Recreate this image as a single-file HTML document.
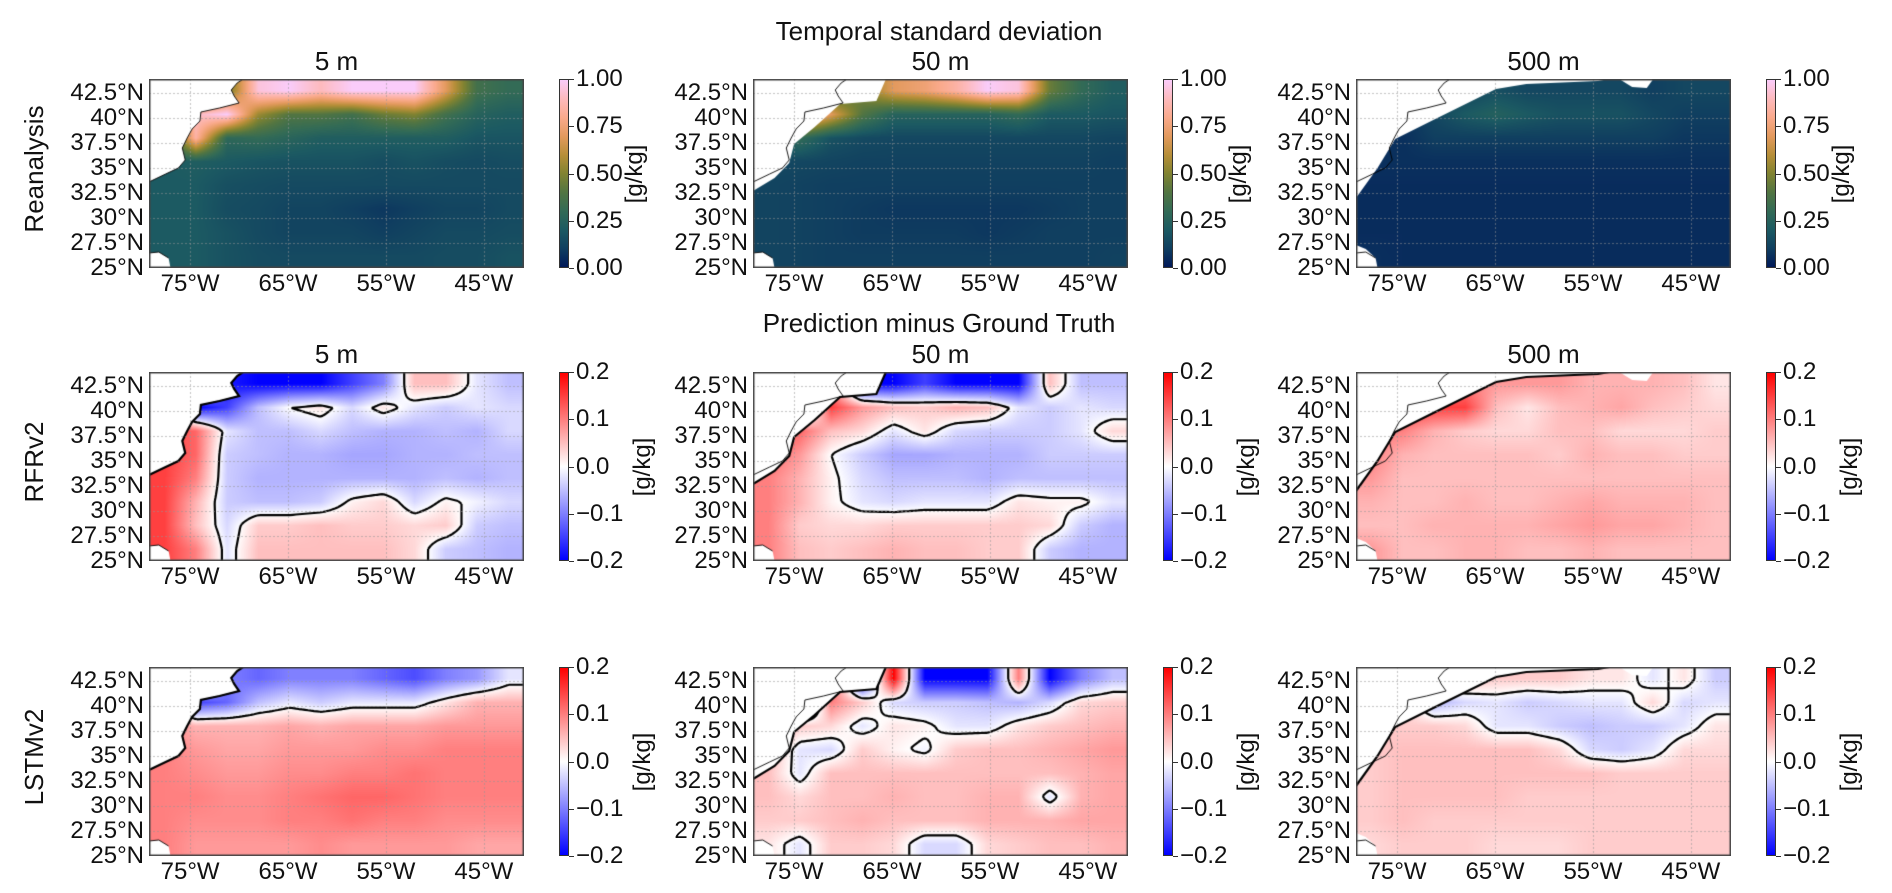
<!DOCTYPE html>
<html><head><meta charset="utf-8">
<style>
body{margin:0;background:#fff;}
#fig{position:relative;width:1892px;height:893px;overflow:hidden;background:#fff;font-family:"Liberation Sans","DejaVu Sans",sans-serif;color:#111;}
.t{position:absolute;white-space:nowrap;line-height:1;}
canvas{position:absolute;}
.cb{position:absolute;width:10px;border:1px solid #333;box-sizing:border-box;}
.tick{position:absolute;width:5px;height:1px;background:#333;}
</style></head>
<body>
<div id="fig"></div>
<script>
// ---- data ----
const lonTicks = [-75, -65, -55, -45];
const latTicks = [25, 27.5, 30, 32.5, 35, 37.5, 40, 42.5];
const stdTicks = [0, 0.25, 0.5, 0.75, 1.0];
const diffTicks = [-0.2, -0.1, 0.0, 0.1, 0.2];
const depths = ["5 m", "50 m", "500 m"];
const rowNames = ["Reanalysis", "RFRv2", "LSTMv2"];

const std5m = [
[.2,.2,.45,.95,1.0,.9,1.0,1.0,1.0,.7,.35,.3],
[.2,.9,1.0,.55,.4,.4,.35,.45,.5,.35,.25,.22],
[.2,.85,.28,.3,.26,.22,.22,.22,.22,.22,.18,.18],
[.2,.22,.2,.18,.17,.17,.17,.15,.17,.15,.14,.15],
[.2,.2,.16,.15,.14,.14,.14,.14,.14,.14,.14,.14],
[.2,.2,.15,.14,.12,.12,.1,.08,.1,.12,.12,.14],
[.2,.2,.17,.14,.12,.12,.12,.1,.12,.14,.14,.15],
[.2,.2,.17,.15,.14,.14,.14,.14,.14,.15,.15,.17]];
const std50m = [
[.2,.2,.3,.5,.7,.75,.85,1.0,.95,.45,.3,.22],
[.2,.95,.7,.4,.25,.25,.25,.25,.3,.2,.2,.18],
[.2,.3,.17,.14,.13,.13,.13,.13,.13,.13,.13,.12],
[.13,.13,.12,.11,.11,.11,.11,.11,.11,.11,.11,.1],
[.12,.11,.1,.1,.1,.1,.1,.1,.1,.1,.1,.1],
[.12,.11,.1,.09,.08,.08,.08,.08,.08,.09,.1,.1],
[.12,.11,.1,.09,.09,.09,.09,.08,.09,.1,.1,.1],
[.12,.11,.1,.1,.1,.1,.1,.1,.1,.1,.1,.11]];
const std500m = [
[.06,.06,.06,.12,.16,.13,.13,.13,.13,.1,.13,.13],
[.06,.06,.13,.2,.24,.2,.17,.17,.17,.13,.1,.1],
[.06,.06,.1,.1,.1,.1,.1,.1,.1,.1,.08,.08],
[.06,.06,.06,.06,.06,.06,.06,.06,.06,.06,.06,.06],
[.05,.05,.05,.05,.05,.05,.05,.05,.05,.05,.05,.05],
[.05,.05,.05,.05,.05,.05,.05,.05,.05,.05,.05,.05],
[.05,.05,.05,.05,.05,.05,.05,.05,.05,.05,.05,.05],
[.06,.05,.05,.05,.05,.05,.05,.05,.05,.05,.05,.05]];
const rfr5m = [
[.1,.1,-.18,-.2,-.2,-.2,-.15,-.1,.05,.05,-.02,-.05],
[.1,-.2,-.15,-.05,0,.02,-.03,.02,-.02,-.04,-.02,-.03],
[.15,.12,-.02,-.05,-.05,-.03,-.05,-.06,-.06,-.05,-.06,-.03],
[.15,.12,-.04,-.05,-.06,-.06,-.07,-.07,-.06,-.06,-.05,-.05],
[.15,.1,-.04,-.06,-.06,-.06,-.06,-.06,-.06,-.05,-.06,-.05],
[.15,.06,-.04,-.05,-.05,-.04,.01,.03,-.03,.01,-.01,-.03],
[.15,.05,-.03,.04,.04,.05,.04,.04,.03,.04,-.04,-.05],
[.15,.1,-.02,.05,.05,.05,.05,.05,.03,-.04,-.05,-.06]];
const rfr50m = [
[.1,.1,.1,-.2,-.2,-.15,-.2,-.2,-.2,.05,-.05,-.05],
[.1,-.15,.15,.08,.05,.04,.06,.05,-.02,-.04,-.02,-.03],
[.15,.12,.05,.03,-.02,.02,-.03,-.04,-.04,-.04,-.02,.03],
[.12,.08,0,-.04,-.07,-.07,-.06,-.06,-.06,-.04,-.04,-.04],
[.1,.06,.01,-.03,-.05,-.05,-.05,-.06,-.05,-.05,-.05,-.05],
[.1,.06,.01,-.02,-.03,-.02,-.02,-.02,.02,.01,.01,-.02],
[.1,.04,.03,.03,.04,.04,.04,.04,.04,.03,-.04,-.06],
[.1,.05,.04,.05,.06,.05,.05,.04,.04,-.04,-.06,-.06]];
const rfr500m = [
[.1,.1,.1,.1,.08,.08,.08,.06,.06,.06,.05,.02],
[.15,.15,.15,.15,.05,.02,.05,.06,.07,.05,.04,.03],
[.1,.1,.06,.04,.03,.03,.05,.05,.03,.03,.03,.04],
[.1,.06,.05,.05,.05,.05,.04,.06,.05,.05,.04,.04],
[.08,.05,.05,.05,.05,.05,.05,.05,.05,.05,.05,.05],
[.06,.05,.05,.06,.05,.05,.06,.07,.06,.06,.06,.05],
[.05,.05,.06,.06,.06,.06,.07,.08,.07,.07,.06,.05],
[.08,.05,.05,.06,.06,.05,.05,.06,.05,.05,.05,.05]];
const lstm5m = [
[.1,.1,-.1,-.12,-.1,-.1,-.1,-.12,-.14,-.1,-.08,-.02],
[.1,-.15,-.12,-.05,-.02,-.04,-.02,-.02,-.02,.02,.06,.06],
[.1,.06,.06,.06,.07,.06,.07,.07,.07,.08,.08,.08],
[.1,.08,.07,.07,.08,.08,.08,.09,.09,.1,.1,.1],
[.1,.09,.08,.08,.09,.09,.1,.1,.11,.1,.1,.1],
[.1,.1,.09,.09,.1,.11,.12,.12,.11,.1,.1,.1],
[.1,.09,.09,.09,.1,.1,.11,.1,.1,.09,.09,.09],
[.1,.08,.08,.08,.08,.09,.08,.08,.08,.08,.07,.07]];
const lstm50m = [
[.1,.1,.15,-.2,.2,-.2,-.2,-.2,.1,-.2,-.1,-.05],
[.1,-.2,.1,.04,-.03,-.04,-.04,-.05,-.06,-.03,.03,.04],
[.1,.04,.03,-.02,.02,.01,-.02,-.02,.02,.04,.05,.06],
[.06,-.02,-.03,.04,.01,-.01,.04,.05,.05,.06,.07,.08],
[.05,-.02,.05,.05,.05,.05,.05,.05,.05,.05,.06,.07],
[.05,.03,.05,.05,.06,.05,.05,.06,.06,-.02,.06,.07],
[.04,.04,.05,.06,.05,.05,.05,.06,.06,.06,.07,.07],
[.02,-.02,.04,.04,.03,-.03,-.03,.03,.04,.05,.05,.06]];
const lstm500m = [
[.05,.05,.05,.05,.04,.04,.04,.02,.02,-.02,.02,-.04],
[.05,.05,-.06,-.03,-.02,-.04,-.03,-.02,-.02,.03,-.03,-.02],
[.05,.04,.04,.03,-.02,-.02,-.04,-.05,-.04,-.04,-.02,.02],
[.04,.05,.05,.05,.05,.05,.03,-.03,-.04,-.02,.03,.03],
[.04,.05,.05,.05,.05,.05,.05,.05,.04,.04,.04,.04],
[.04,.05,.05,.05,.05,.04,.04,.04,.04,.04,.04,.04],
[.04,.05,.04,.04,.04,.04,.04,.04,.04,.04,.04,.04],
[.03,.04,.04,.04,.03,.03,.03,.04,.04,.04,.04,.04]];

const panelGrids = [[std5m, std50m, std500m],[rfr5m, rfr50m, rfr500m],[lstm5m, lstm50m, lstm500m]];

// ---- layout ----
const LON0=-79.2, LON1=-40.9, LAT0=25, LAT1=43.9;
const PX=[149,753,1356], PY=[79,372,667], PW=375, PH=189;
const fig=document.getElementById('fig');

const coast5 = [[-79.2,33.6],[-77.5,34.4],[-76.2,35.0],[-75.5,35.8],[-75.8,37.0],[-75.3,38.0],[-74.8,38.9],[-74.0,39.7],[-73.9,40.6],[-72,41.0],[-70,41.5],[-70.5,42.2],[-70.8,42.8],[-70.2,43.5],[-69.5,43.95]];
const coast50 = [[-79.2,32.7],[-77,34],[-75.5,35.5],[-75.0,37.4],[-72.9,39.1],[-70.3,41.4],[-66.6,41.7],[-65.6,43.95]];
const coast500 = [[-79.2,32],[-77,35],[-75.2,37.9],[-71.1,39.9],[-64.9,42.9],[-61.8,43.4],[-54.5,43.7],[-53,43.95]];
const masks=[coast5,coast50,coast500];

function xOf(lon){return (lon-LON0)/(LON1-LON0)*PW;}
function yOf(lat){return (LAT1-lat)/(LAT1-LAT0)*PH;}

function text(s,x,y,size,align,name,rot){
  const d=document.createElement('div');
  d.className='t';d.textContent=s;d.style.fontSize=size+'px';
  
  
  fig.appendChild(d);
  let tx = align==='c'?'-50%':(align==='r'?'-100%':'0');
  d.style.left=x+'px';d.style.top=y+'px';
  d.style.transform='translate('+tx+',-50%)'+(rot?' rotate(-90deg)':'');
  return d;
}
const batlow=[[1,25,89],[16,63,96],[28,90,98],[51,107,86],[82,117,66],[129,131,49],[183,143,57],[227,154,94],[250,170,140],[253,186,189],[250,204,250]];
function cmStd(v){let t=Math.max(0,Math.min(1,v))*10;let i=Math.min(9,Math.floor(t));let f=t-i;const a=batlow[i],b=batlow[i+1];return [a[0]+(b[0]-a[0])*f,a[1]+(b[1]-a[1])*f,a[2]+(b[2]-a[2])*f];}
function cmBwr(v){let t=(Math.max(-0.2,Math.min(0.2,v))+0.2)/0.4;if(t<0.5)return [510*t,510*t,255];return [255,255*(2-2*t),255*(2-2*t)];}

function sampler(g){
  const nr=g.length,nc=g[0].length;
  return function(px,py){
    let gx=px/PW*nc-0.5, gy=py/PH*nr-0.5;
    gx=Math.max(0,Math.min(nc-1.001,gx)); gy=Math.max(0,Math.min(nr-1.001,gy));
    const i=Math.floor(gx), j=Math.floor(gy), fx=gx-i, fy=gy-j;
    const a=g[j][i],b=g[j][i+1],c=g[j+1][i],d=g[j+1][i+1];
    return (a*(1-fx)+b*fx)*(1-fy)+(c*(1-fx)+d*fx)*fy;
  };
}
function landPath(ctx,m){
  ctx.beginPath();
  ctx.moveTo(xOf(m[0][0]),yOf(m[0][1]));
  for(const p of m)ctx.lineTo(xOf(p[0]),yOf(p[1]));
  ctx.lineTo(0,-2);ctx.closePath();
}
function bahamas(c,big){
  return [[-79.2,25],[-79.2,big?27.3:26.5],[-78.2,big?26.9:26.6],[-77.2,26],[-77,25]];
}

for(let r=0;r<3;r++){
  for(let c=0;c<3;c++){
    const cv=document.createElement('canvas');
    cv.width=PW;cv.height=PH;cv.style.left=PX[c]+'px';cv.style.top=PY[r]+'px';
    
    
    fig.appendChild(cv);
    const ctx=cv.getContext('2d');
    const f=sampler(panelGrids[r][c]);
    const img=ctx.createImageData(PW,PH);
    for(let y=0;y<PH;y++)for(let x=0;x<PW;x++){
      const v=f(x+0.5,y+0.5);const col=r===0?cmStd(v):cmBwr(v);
      const k=(y*PW+x)*4;img.data[k]=col[0];img.data[k+1]=col[1];img.data[k+2]=col[2];img.data[k+3]=255;
    }
    ctx.putImageData(img,0,0);
    if(r>0){
      const s=3,nx=Math.ceil(PW/s)+1,ny=Math.ceil(PH/s)+1;const V=[];
      for(let j=0;j<ny;j++){V.push([]);for(let i=0;i<nx;i++)V[j].push(f(i*s,j*s));}
      ctx.strokeStyle='#000';ctx.lineWidth=2.2;ctx.beginPath();
      for(let j=0;j<ny-1;j++)for(let i=0;i<nx-1;i++){
        const a=V[j][i],b=V[j][i+1],cc=V[j+1][i+1],d=V[j+1][i];
        const pts=[];
        if((a>0)!==(b>0))pts.push([(i+a/(a-b))*s,j*s]);
        if((b>0)!==(cc>0))pts.push([(i+1)*s,(j+b/(b-cc))*s]);
        if((cc>0)!==(d>0))pts.push([(i+1-cc/(cc-d))*s,(j+1)*s]);
        if((d>0)!==(a>0))pts.push([i*s,(j+1-d/(d-a))*s]);
        for(let q=0;q+1<pts.length;q+=2){ctx.moveTo(pts[q][0],pts[q][1]);ctx.lineTo(pts[q+1][0],pts[q+1][1]);}
      }
      ctx.stroke();
    }
    ctx.fillStyle='#fff';
    landPath(ctx,masks[c]);ctx.fill();
    const bh=bahamas(c,c===2);
    ctx.beginPath();bh.forEach((p,i)=>{i?ctx.lineTo(xOf(p[0]),yOf(p[1])):ctx.moveTo(xOf(p[0]),yOf(p[1]));});ctx.closePath();ctx.fill();
    if(c===2){
      const bump=[[-52.4,43.95],[-51,43.1],[-49.5,43.0],[-48.8,43.95]];
      ctx.beginPath();bump.forEach((p,i)=>{i?ctx.lineTo(xOf(p[0]),yOf(p[1])):ctx.moveTo(xOf(p[0]),yOf(p[1]));});ctx.closePath();ctx.fill();
    }
    if(r>0){
      ctx.strokeStyle='#000';ctx.lineWidth=2.2;ctx.beginPath();
      masks[c].forEach((p,i)=>{i?ctx.lineTo(xOf(p[0]),yOf(p[1])):ctx.moveTo(xOf(p[0]),yOf(p[1]));});ctx.stroke();
    }
    ctx.strokeStyle='rgba(150,150,150,0.55)';ctx.lineWidth=1;ctx.setLineDash([2,2]);ctx.beginPath();
    lonTicks.forEach(l=>{const x=Math.round(xOf(l))+0.5;ctx.moveTo(x,0);ctx.lineTo(x,PH);});
    latTicks.forEach(l=>{const y=Math.round(yOf(l))+0.5;ctx.moveTo(0,y);ctx.lineTo(PW,y);});
    ctx.stroke();ctx.setLineDash([]);
    ctx.strokeStyle='#000';ctx.lineWidth=0.9;ctx.beginPath();
    coast5.forEach((p,i)=>{i?ctx.lineTo(xOf(p[0]),yOf(p[1])):ctx.moveTo(xOf(p[0]),yOf(p[1]));});ctx.stroke();
    ctx.beginPath();bahamas(c,false).slice(1,4).forEach((p,i)=>{i?ctx.lineTo(xOf(p[0]),yOf(p[1])):ctx.moveTo(xOf(p[0]),yOf(p[1]));});ctx.stroke();
    ctx.strokeStyle='#444';ctx.lineWidth=1.5;ctx.strokeRect(0.75,0.75,PW-1.5,PH-1.5);

    latTicks.forEach(l=>{text(l+'°N',PX[c]-5,PY[r]+yOf(l),24,'r','lat-tick-label');});
    lonTicks.forEach(l=>{text(Math.abs(l)+'°W',PX[c]+xOf(l),PY[r]+PH+16,24,'c','lon-tick-label');});
    if(r<2)text(depths[c],PX[c]+PW/2,PY[r]-18,26,'c','panel-title-'+depths[c].replace(' ',''));

    const cb=document.createElement('div');cb.className='cb';
    
    
    const cbx=PX[c]+410;
    cb.style.left=cbx+'px';cb.style.top=PY[r]+'px';cb.style.height=PH+'px';
    if(r===0){cb.style.background='linear-gradient(to top,'+batlow.map((b,i)=>'rgb('+b.join(',')+') '+(i*10)+'%').join(',')+')';}
    else cb.style.background='linear-gradient(to top,#0000ff,#ffffff,#ff0000)';
    fig.appendChild(cb);
    const ticks=r===0?stdTicks:diffTicks;
    ticks.forEach((tv,i)=>{
      const ty=PY[r]+PH-(i/(ticks.length-1))*PH;
      const tk=document.createElement('div');tk.className='tick';tk.style.left=(cbx+10)+'px';tk.style.top=Math.round(ty)+'px';
      
      
      fig.appendChild(tk);
      const lab=r===0?tv.toFixed(2):(tv<0?'\u2212'+Math.abs(tv).toFixed(1):tv.toFixed(1));
      text(lab,cbx+17,ty,24,'l','colorbar-tick-label');
    });
    text('[g/kg]',PX[c]+(r===0?486:494),PY[r]+PH/2,24,'c','colorbar-label',true);
  }
  text(rowNames[r],34,PY[r]+PH/2-5,26,'c','row-label-'+rowNames[r].toLowerCase(),true);
}
text('Temporal standard deviation',939,31,26,'c','title-std');
text('Prediction minus Ground Truth',939,323,26,'c','title-diff');
</script>
</body></html>
